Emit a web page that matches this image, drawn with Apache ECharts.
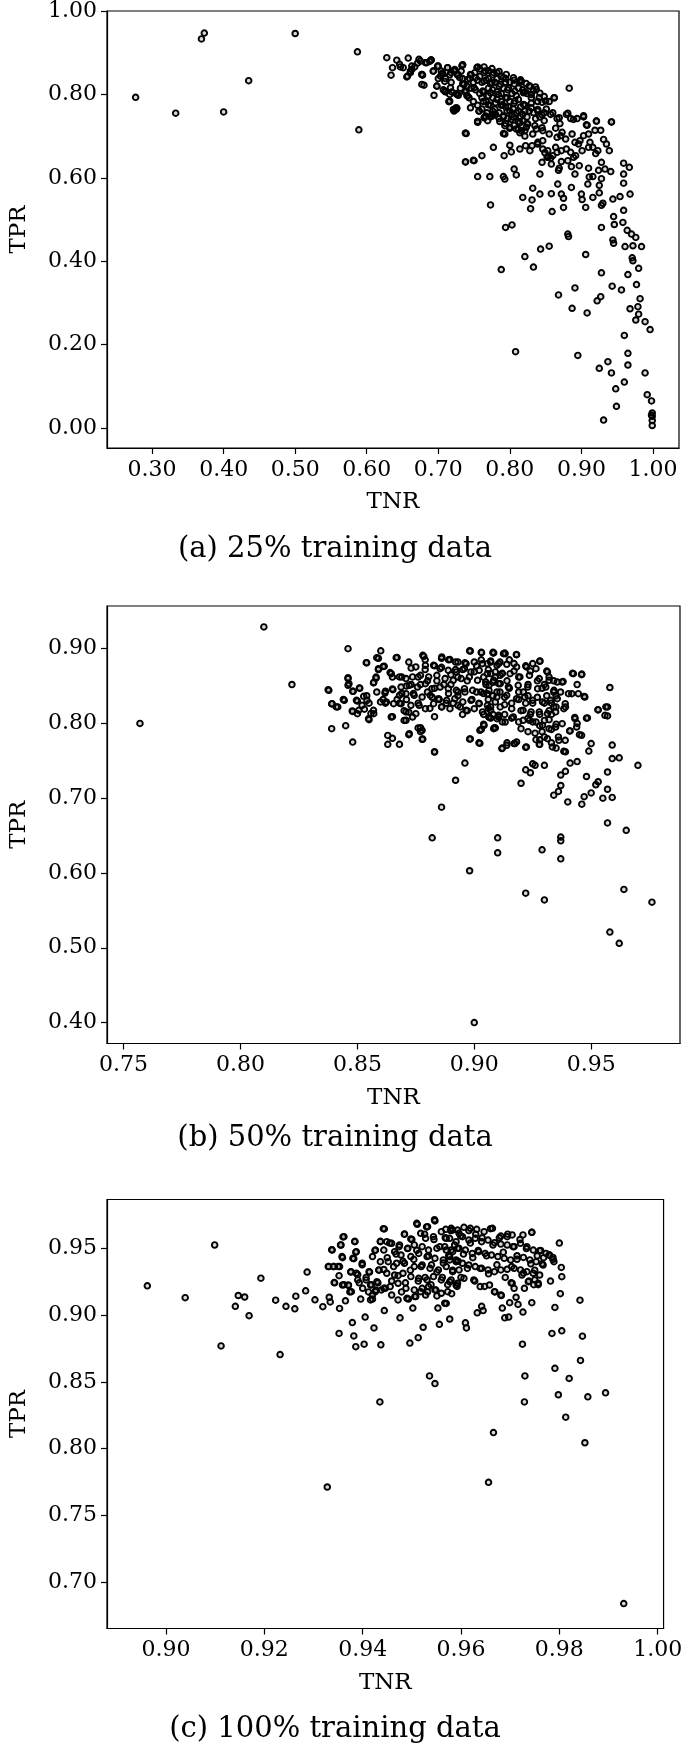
<!DOCTYPE html>
<html>
<head>
<meta charset="utf-8">
<script src="https://cdn.jsdelivr.net/npm/echarts@6/dist/echarts.min.js"></script>
<style>
html,body{margin:0;padding:0;background:#fff;}
#chart{width:685px;height:1746px;}
</style>
</head>
<body>
<div id="chart"></div>
<script>
// ---- tick labels ----
const ticksAx = [0.30,0.40,0.50,0.60,0.70,0.80,0.90,1.00];
const ticksAy = [0.00,0.20,0.40,0.60,0.80,1.00];
const ticksBx = [0.75,0.80,0.85,0.90,0.95];
const ticksBy = [0.40,0.50,0.60,0.70,0.80,0.90];
const ticksCx = [0.90,0.92,0.94,0.96,0.98,1.00];
const ticksCy = [0.70,0.75,0.80,0.85,0.90,0.95];

const captions = ["(a) 25% training data", "(b) 50% training data", "(c) 100% training data"];
const xName = "TNR", yName = "TPR";

// ---- data: [TNR, TPR] ----
const points25 = [
[0.277,0.793],[0.333,0.755],[0.369,0.933],[0.373,0.947],[0.400,0.758],[0.435,0.833],[0.500,0.946],[0.587,0.902],[0.589,0.715],
[0.628,0.888],[0.634,0.846],[0.636,0.864],[0.642,0.882],[0.646,0.872],[0.651,0.864],[0.658,0.887],[0.661,0.852],[0.657,0.844],[0.663,0.860],[0.667,0.866],[0.673,0.884],[0.677,0.848],[0.680,0.822],[0.684,0.876],[0.690,0.883],[0.693,0.856],[0.699,0.868],[0.694,0.798],[0.703,0.844],[0.698,0.820],[0.704,0.856],[0.709,0.831],[0.713,0.864],[0.715,0.783],[0.717,0.816],[0.723,0.856],[0.721,0.764],[0.726,0.767],[0.726,0.800],[0.732,0.856],[0.734,0.871],[0.736,0.824],[0.741,0.796],[0.745,0.848],[0.738,0.707],[0.738,0.638],[0.749,0.642],
[0.647,0.866],[0.656,0.842],[0.671,0.875],[0.678,0.846],[0.688,0.879],[0.700,0.838],[0.706,0.851],[0.710,0.806],[0.718,0.829],[0.724,0.765],[0.727,0.846],[0.728,0.798],[0.733,0.869],[0.734,0.825],[0.740,0.797],[0.744,0.838],
[0.751,0.852],[0.754,0.864],[0.755,0.733],[0.757,0.760],[0.763,0.783],[0.765,0.746],
[0.800,0.829],[0.794,0.838],[0.788,0.843],[0.782,0.852],[0.776,0.847],[0.770,0.857],[0.764,0.852],[0.758,0.843],[0.761,0.829],[0.767,0.834],[0.773,0.825],[0.779,0.829],[0.785,0.820],[0.791,0.815],[0.797,0.811],[0.803,0.802],[0.809,0.797],[0.812,0.788],[0.806,0.779],[0.800,0.783],[0.794,0.792],[0.788,0.802],[0.782,0.806],[0.776,0.811],[0.770,0.815],[0.764,0.806],[0.758,0.802],[0.752,0.811],[0.746,0.815],[0.749,0.829],[0.755,0.834],[0.761,0.792],[0.767,0.783],[0.773,0.774],[0.779,0.765],[0.785,0.756],[0.791,0.746],[0.797,0.742],[0.803,0.751],[0.809,0.756],[0.815,0.746],[0.818,0.737],[0.824,0.746],[0.827,0.760],[0.833,0.756],[0.836,0.742],[0.842,0.746],[0.848,0.737],[0.785,0.742],[0.779,0.751],[0.773,0.746],[0.769,0.737],[0.740,0.820],[0.734,0.838],[0.728,0.847],[0.722,0.857],[0.716,0.847],[0.710,0.838],[0.707,0.811],[0.719,0.806],[0.725,0.802],[0.731,0.815],[0.737,0.806],[0.743,0.792],[0.749,0.783],[0.755,0.774],[0.761,0.765],[0.746,0.847],[0.758,0.861],[0.764,0.866],[0.770,0.838],[0.782,0.838],[0.794,0.829],[0.806,0.825],[0.812,0.815],[0.821,0.806],[0.830,0.779],[0.839,0.760],[0.845,0.751],[0.821,0.774],[0.821,0.760],[0.815,0.770],[0.800,0.760],[0.788,0.774],[0.794,0.770],[0.776,0.792],[0.770,0.797],[0.788,0.783],[0.782,0.788],[0.806,0.834],[0.815,0.829],[0.827,0.820],[0.833,0.809],[0.818,0.811],[0.824,0.802],[0.830,0.792],[0.839,0.783],[0.845,0.781],[0.851,0.765],[0.860,0.756],[0.866,0.742],[0.870,0.730],[0.864,0.719],[0.806,0.726],[0.800,0.721],[0.794,0.730],[0.812,0.716],[0.821,0.713],
[0.775,0.862],[0.785,0.855],[0.795,0.848],[0.805,0.840],[0.815,0.835],[0.823,0.826],[0.836,0.818],[0.842,0.803],[0.848,0.795],[0.855,0.783],[0.780,0.780],[0.790,0.775],[0.798,0.770],[0.805,0.765],[0.812,0.760],[0.818,0.752],[0.770,0.775],[0.776,0.760],[0.786,0.735],[0.796,0.760],[0.805,0.745],[0.812,0.735],[0.824,0.730],[0.835,0.725],[0.845,0.720],
[0.663,0.868],[0.675,0.880],[0.682,0.876],[0.690,0.882],[0.700,0.868],[0.713,0.864],[0.723,0.860],[0.734,0.871],[0.755,0.866],[0.766,0.856],[0.777,0.852],[0.791,0.840],[0.816,0.832],[0.828,0.820],[0.837,0.812],[0.862,0.792],[0.661,0.856],[0.677,0.848],[0.693,0.856],[0.705,0.848],[0.718,0.852],[0.730,0.840],[0.741,0.836],[0.752,0.840],[0.764,0.832],[0.775,0.828],[0.787,0.824],[0.798,0.816],[0.807,0.808],[0.819,0.804],[0.830,0.800],[0.841,0.792],[0.850,0.784],[0.677,0.824],[0.698,0.820],[0.709,0.808],[0.716,0.800],[0.727,0.800],[0.739,0.808],[0.750,0.816],[0.762,0.808],[0.773,0.804],[0.784,0.800],[0.796,0.792],[0.807,0.784],[0.819,0.776],[0.830,0.768],[0.839,0.764],[0.848,0.756],[0.857,0.752],[0.869,0.744],[0.879,0.752],[0.889,0.740],[0.903,0.746],[0.907,0.727],[0.921,0.736],[0.942,0.734],[0.716,0.784],[0.725,0.764],[0.745,0.768],[0.757,0.760],[0.768,0.756],[0.780,0.752],[0.791,0.748],[0.802,0.740],[0.814,0.732],[0.825,0.729],[0.837,0.717],[0.846,0.713],[0.855,0.705],[0.866,0.697],[0.873,0.709],[0.739,0.706],[0.755,0.735],[0.764,0.744],[0.775,0.748],[0.791,0.706],[0.793,0.725],[0.800,0.719],[0.809,0.717],[0.816,0.713],[0.823,0.721],
[0.738,0.638],[0.750,0.641],[0.761,0.653],[0.755,0.603],[0.772,0.603],[0.773,0.535],[0.791,0.603],[0.793,0.597],[0.806,0.621],[0.809,0.607],[0.794,0.481],[0.803,0.487],[0.788,0.380],[0.821,0.411],[0.833,0.386],[0.843,0.429],[0.855,0.436],[0.868,0.319],[0.887,0.287],[0.908,0.276],[0.891,0.336],[0.906,0.416],[0.928,0.372],[0.922,0.305],[0.927,0.315],[0.943,0.340],[0.956,0.331],[0.965,0.368],[0.977,0.344],[0.982,0.310],[0.979,0.291],[0.968,0.286],[0.980,0.273],[0.976,0.259],[0.989,0.255],[0.996,0.236],
[0.881,0.465],[0.882,0.459],[0.944,0.451],[0.945,0.443],[0.928,0.481],[0.945,0.507],[0.946,0.488],[0.958,0.493],[0.959,0.522],[0.961,0.435],[0.972,0.437],[0.984,0.435],[0.971,0.408],[0.972,0.401],[0.980,0.383],[0.964,0.474],[0.970,0.465],[0.976,0.457],[0.944,0.549],[0.954,0.555],[0.968,0.561],[0.928,0.534],[0.930,0.539],[0.906,0.529],[0.900,0.561],[0.901,0.548],[0.916,0.553],[0.925,0.564],[0.925,0.582],[0.909,0.585],[0.911,0.602],[0.916,0.603],[0.928,0.598],[0.924,0.618],[0.933,0.621],[0.941,0.615],[0.959,0.587],[0.959,0.609],[0.959,0.635],[0.967,0.625],
[0.886,0.577],[0.867,0.585],[0.872,0.561],[0.875,0.551],[0.858,0.562],[0.842,0.561],[0.832,0.575],[0.831,0.547],[0.829,0.526],[0.818,0.553],[0.859,0.519],[0.875,0.529],[0.842,0.609],[0.858,0.633],[0.868,0.618],[0.869,0.623],[0.886,0.627],[0.897,0.629],[0.910,0.623],[0.891,0.609],[0.881,0.641],[0.872,0.639],[0.852,0.649],[0.845,0.637],[0.860,0.653],
[0.777,0.673],[0.792,0.653],[0.800,0.678],[0.802,0.662],[0.814,0.669],[0.822,0.677],[0.828,0.665],[0.831,0.677],[0.839,0.681],[0.846,0.669],[0.849,0.660],[0.854,0.650],[0.864,0.673],[0.872,0.665],[0.879,0.669],[0.885,0.661],[0.889,0.649],[0.892,0.653],[0.896,0.681],[0.901,0.665],[0.910,0.673],[0.912,0.685],[0.920,0.658],[0.923,0.665],[0.928,0.637],[0.939,0.665],[0.935,0.681],[0.931,0.692],[0.927,0.714],[0.919,0.714],[0.921,0.736],[0.942,0.734],[0.908,0.726],[0.910,0.705],[0.903,0.749],[0.894,0.742],[0.881,0.755],[0.885,0.742],[0.862,0.792],[0.883,0.815],
[0.755,0.735],[0.738,0.707],[0.715,0.783],[0.722,0.760],[0.725,0.768],[0.766,0.748],[0.776,0.752],[0.793,0.705],[0.800,0.720],[0.814,0.708],[0.821,0.700],[0.832,0.705],[0.839,0.685],[0.846,0.689],[0.853,0.665],[0.857,0.647],[0.866,0.661],[0.871,0.701],[0.878,0.693],[0.887,0.705],[0.891,0.685],[0.898,0.689],[0.903,0.701],[0.916,0.673],
[0.808,0.183],[0.895,0.174],[0.925,0.143],[0.931,0.019],[0.937,0.159],[0.942,0.132],[0.948,0.094],[0.949,0.052],[0.960,0.110],[0.960,0.222],[0.965,0.179],[0.965,0.151],[0.989,0.132],[0.992,0.080],[0.998,0.065],[0.999,0.036],[0.999,0.028],[0.999,0.018],[0.999,0.006],[0.998,0.031]
];

const points50 = [
[0.757,0.800],[0.810,0.929],[0.822,0.852],[0.8375,0.845],[0.839,0.793],[0.839,0.826],[0.841,0.822],[0.844,0.832],[0.845,0.797],[0.846,0.900],[0.846,0.860],[0.846,0.851],[0.848,0.775],[0.848,0.843],[0.848,0.816],[0.850,0.830],[0.851,0.847],[0.850,0.813],[0.853,0.819],[0.854,0.881],[0.854,0.837],[0.855,0.827],[0.855,0.805],[0.857,0.813],[0.857,0.855],[0.858,0.862],[0.859,0.887],[0.859,0.872],[0.860,0.897],[0.861,0.832],[0.861,0.876],[0.862,0.843],[0.862,0.827],[0.863,0.784],[0.863,0.772],[0.864,0.868],[0.865,0.780],[0.865,0.809],[0.865,0.846],[0.865,0.862],[0.867,0.888],[0.868,0.772],[0.868,0.827],[0.869,0.862],[0.870,0.817],[0.870,0.804],[0.871,0.850],[0.872,0.815],[0.872,0.785],[0.872,0.882],[0.873,0.874],[0.874,0.840],[0.875,0.813],[0.876,0.794],[0.877,0.789],[0.878,0.779],[0.878,0.891],[0.879,0.885],[0.880,0.842],[0.881,0.820],[0.882,0.835],[0.883,0.762],[0.882,0.647],[0.883,0.809],[0.884,0.857],[0.886,0.688],[0.886,0.887],[0.887,0.852],[0.888,0.827],[0.889,0.885],[0.890,0.865],[0.891,0.827],[0.892,0.724],[0.892,0.882],[0.893,0.842],[0.895,0.812],[0.896,0.747],[0.896,0.881],[0.898,0.779],[0.898,0.897],[0.898,0.603],[0.900,0.869],[0.900,0.400],[0.901,0.842],[0.902,0.774],[0.903,0.792],[0.903,0.895],[0.904,0.799],[0.905,0.852],[0.906,0.832],[0.907,0.807],[0.908,0.895],[0.909,0.794],[0.910,0.627],[0.910,0.647],[0.911,0.882],[0.912,0.767],[0.913,0.812],[0.913,0.894],[0.914,0.774],[0.915,0.885],[0.916,0.807],[0.917,0.773],[0.918,0.892],[0.919,0.842],[0.920,0.793],[0.920,0.720],[0.922,0.738],[0.922,0.573],[0.922,0.768],[0.923,0.807],[0.924,0.734],[0.925,0.827],[0.925,0.746],[0.926,0.744],[0.928,0.778],[0.928,0.883],[0.928,0.772],[0.929,0.631],[0.930,0.564],[0.930,0.804],[0.930,0.744],[0.931,0.870],[0.933,0.792],[0.934,0.704],[0.934,0.857],[0.935,0.799],[0.936,0.709],[0.936,0.782],[0.937,0.648],[0.937,0.643],[0.937,0.619],[0.937,0.717],[0.937,0.731],[0.938,0.856],[0.939,0.762],[0.939,0.736],[0.939,0.822],[0.940,0.695],[0.941,0.790],[0.941,0.747],[0.942,0.867],[0.943,0.808],[0.944,0.749],[0.944,0.800],[0.944,0.852],[0.945,0.785],[0.946,0.866],[0.946,0.692],[0.947,0.702],[0.947,0.836],[0.948,0.807],[0.948,0.729],[0.949,0.763],[0.950,0.707],[0.950,0.773],[0.952,0.718],[0.953,0.818],[0.955,0.700],[0.957,0.810],[0.957,0.735],[0.957,0.667],[0.957,0.822],[0.957,0.712],[0.958,0.521],[0.958,0.848],[0.959,0.753],[0.959,0.701],[0.959,0.771],[0.962,0.754],[0.962,0.506],[0.964,0.578],[0.965,0.657],[0.970,0.744],[0.976,0.561],[0.953,0.722],
[0.886,0.875],[0.890,0.852],[0.893,0.862],[0.895,0.872],[0.897,0.857],[0.901,0.877],[0.904,0.862],[0.906,0.872],[0.909,0.862],[0.912,0.867],[0.914,0.857],[0.917,0.870],[0.919,0.862],[0.923,0.852],[0.924,0.870],[0.927,0.857],[0.929,0.847],[0.931,0.837],[0.933,0.827],[0.934,0.842],[0.935,0.822],[0.932,0.817],[0.928,0.812],[0.925,0.802],[0.922,0.827],[0.919,0.832],[0.916,0.827],[0.913,0.835],[0.911,0.842],[0.908,0.837],[0.904,0.840],[0.902,0.827],[0.899,0.832],[0.896,0.842],[0.893,0.837],[0.889,0.840],[0.885,0.832],[0.883,0.847],[0.880,0.857],[0.877,0.852],[0.876,0.862],[0.879,0.872],[0.883,0.877],[0.892,0.872],[0.908,0.855],[0.915,0.847],[0.921,0.842],[0.923,0.837],[0.927,0.835],[0.930,0.852],[0.932,0.862],[0.922,0.877],[0.925,0.880],[0.917,0.880],[0.907,0.882],[0.903,0.885],[0.930,0.827],[0.933,0.812],[0.935,0.837],[0.934,0.822],[0.873,0.852],[0.871,0.832],[0.869,0.840],[0.867,0.832],[0.876,0.827],[0.886,0.822],[0.894,0.822],[0.897,0.817],[0.906,0.820],[0.913,0.825],[0.920,0.817],[0.924,0.812],[0.928,0.797],[0.932,0.805],[0.923,0.789],[0.926,0.787],[0.929,0.789],[0.930,0.782],[0.933,0.774],[0.935,0.767],[0.919,0.802],[0.912,0.802],[0.908,0.812],[0.904,0.812],
[0.8784,0.8897],[0.8861,0.8888],[0.8896,0.8853],[0.8930,0.8821],[0.8965,0.8799],[0.9000,0.8821],[0.9035,0.8799],[0.9070,0.8835],[0.9104,0.8799],[0.8983,0.8968],[0.9031,0.8946],[0.9081,0.8942],[0.9125,0.8933],[0.8750,0.8755],[0.8791,0.8777],[0.8826,0.8777],[0.8854,0.8732],[0.8889,0.8710],[0.8923,0.8688],[0.8958,0.8732],[0.8986,0.8688],[0.9021,0.8710],[0.9056,0.8665],[0.9090,0.8688],[0.9118,0.8665],[0.8708,0.8599],[0.8736,0.8621],[0.8770,0.8643],[0.8805,0.8621],[0.8840,0.8643],[0.8875,0.8599],[0.8910,0.8576],[0.8944,0.8599],[0.8979,0.8621],[0.9014,0.8576],[0.9049,0.8554],[0.9083,0.8576],[0.9111,0.8532],[0.8687,0.8487],[0.8722,0.8509],[0.8757,0.8487],[0.8791,0.8532],[0.8819,0.8465],[0.8854,0.8487],[0.8889,0.8465],[0.8923,0.8443],[0.8958,0.8465],[0.8993,0.8443],[0.9028,0.8420],[0.9063,0.8443],[0.9097,0.8420],[0.8680,0.8376],[0.8708,0.8398],[0.8743,0.8376],[0.8777,0.8353],[0.8812,0.8376],[0.8847,0.8331],[0.8882,0.8309],[0.8917,0.8331],[0.8951,0.8287],[0.8986,0.8309],[0.9021,0.8264],[0.9056,0.8242],[0.9090,0.8287],[0.8687,0.8264],[0.8729,0.8242],[0.8764,0.8242],[0.8791,0.8197],[0.8826,0.8264],[0.8861,0.8220],[0.8896,0.8197],[0.8930,0.8242],[0.8965,0.8175],[0.9000,0.8197],[0.9035,0.8153],[0.9070,0.8175],[0.9104,0.8108],[0.8708,0.8153],[0.8736,0.8086],[0.8708,0.8041],[0.8770,0.7943],[0.8777,0.7908],[0.8722,0.7863],[0.8777,0.7788],[0.8830,0.7618],[0.8983,0.7792],[0.9024,0.7734],[0.9024,0.7908],[0.9042,0.7975],[0.9086,0.7943],[0.9104,0.8086],[0.9063,0.8086],
[0.8378,0.8443],[0.8392,0.8264],[0.8416,0.8220],[0.8444,0.8309],[0.8460,0.8612],[0.8464,0.8532],[0.8482,0.8429],[0.8509,0.8474],[0.8478,0.8166],[0.8496,0.8309],[0.8506,0.8175],[0.8520,0.8242],[0.8527,0.8362],[0.8541,0.8309],[0.8548,0.8064],[0.8558,0.8131],[0.8569,0.8175],[0.8538,0.8812],[0.8583,0.8879],[0.8590,0.8732],[0.8615,0.8763],[0.8569,0.8541],[0.8580,0.8607],[0.8583,0.8420],[0.8618,0.8407],[0.8624,0.8287],[0.8599,0.8287],[0.8645,0.8665],[0.8652,0.8451],[0.8645,0.8086],[0.8655,0.8264],[0.8666,0.8879],[0.8680,0.8621],
[0.9083,0.8942],[0.9132,0.8933],[0.9181,0.8919],[0.9281,0.8835],[0.9056,0.8799],[0.9097,0.8777],[0.9139,0.8790],[0.9181,0.8755],[0.9223,0.8755],[0.9264,0.8732],[0.9313,0.8688],[0.9070,0.8665],[0.9111,0.8643],[0.9153,0.8665],[0.9195,0.8621],[0.9236,0.8643],[0.9278,0.8599],[0.9320,0.8576],[0.9355,0.8554],[0.9376,0.8554],[0.9063,0.8509],[0.9104,0.8532],[0.9146,0.8487],[0.9188,0.8509],[0.9229,0.8487],[0.9271,0.8465],[0.9306,0.8487],[0.9341,0.8443],[0.9369,0.8420],[0.9056,0.8398],[0.9097,0.8353],[0.9139,0.8376],[0.9181,0.8331],[0.9216,0.8353],[0.9250,0.8309],[0.9292,0.8287],[0.9327,0.8309],[0.9355,0.8331],[0.9389,0.8264],[0.9070,0.8220],[0.9111,0.8220],[0.9160,0.8197],[0.9209,0.8175],[0.9243,0.8153],[0.9278,0.8153],[0.9313,0.8131],[0.9348,0.8153],[0.9383,0.8197],[0.9063,0.8086],[0.9097,0.8064],[0.9132,0.8019],[0.9167,0.8086],[0.9209,0.8041],[0.9236,0.8041],[0.9264,0.8019],[0.9292,0.7975],[0.9320,0.7930],[0.9348,0.7952],[0.9376,0.7997],[0.9083,0.7930],[0.9118,0.7663],[0.9139,0.7707],[0.9174,0.7730],[0.9181,0.7752],[0.9223,0.7685],[0.9264,0.7783],[0.9278,0.7721],[0.9313,0.7796],[0.9334,0.7685],[0.9362,0.7774],[0.9389,0.7774],[0.9383,0.7627],[0.9408,0.7899],[0.9438,0.7952],[0.9473,0.8353],[0.9445,0.8398],[0.9424,0.8665],[0.9459,0.8652],[0.9417,0.8398],[0.9403,0.8398],[0.9431,0.8064],[0.9484,0.8073],[0.9459,0.7841],[0.9529,0.8184],[0.9563,0.8220],[0.9559,0.8108]
];

const points100 = [
[0.8962,0.9221],[0.9039,0.9132],[0.9099,0.9527],[0.9112,0.8770],[0.9141,0.9067],[0.9147,0.9148],[0.9160,0.9137],[0.9169,0.8997],[0.9193,0.9278],[0.9223,0.9113],[0.9232,0.8705],[0.9244,0.9067],[0.9262,0.9048],[0.9264,0.9143],[0.9284,0.9183],[0.9287,0.9324],[0.9303,0.9116],[0.9319,0.9064],[0.9328,0.7712],[0.9330,0.9365],[0.9332,0.9135],[0.9334,0.9100],[0.9337,0.9492],[0.9341,0.9365],[0.9343,0.9243],[0.9350,0.9365],[0.9352,0.9297],[0.9353,0.9051],[0.9352,0.8864],[0.9356,0.9527],[0.9359,0.9432],[0.9360,0.9587],[0.9362,0.9229],[0.9365,0.9108],[0.9371,0.9224],[0.9374,0.9175],[0.9376,0.9324],[0.9379,0.8945],[0.9382,0.9424],[0.9382,0.8845],[0.9384,0.9554],[0.9386,0.8764],[0.9386,0.9473],[0.9390,0.9305],[0.9393,0.9243],[0.9396,0.9121],[0.9399,0.9378],[0.9403,0.8783],[0.9405,0.8986],[0.9407,0.9284],[0.9412,0.9175],[0.9414,0.9324],[0.9418,0.9229],[0.9420,0.9121],[0.9423,0.8905],[0.9425,0.9486],[0.9427,0.9189],[0.9431,0.9243],[0.9433,0.9338],[0.9436,0.9554],[0.9437,0.8778],[0.9435,0.8350],[0.9442,0.9649],[0.9443,0.9343],[0.9444,0.9035],[0.9446,0.9202],[0.9450,0.9432],[0.9455,0.9541],[0.9459,0.9257],[0.9463,0.9365],[0.9468,0.9459],[0.9472,0.9297],[0.9474,0.9514],[0.9476,0.8981],[0.9479,0.9175],[0.9482,0.9405],[0.9485,0.9608],[0.9487,0.9243],[0.9491,0.9500],[0.9493,0.9121],[0.9496,0.8791],[0.9497,0.9338],[0.9500,0.9568],[0.9502,0.9054],[0.9504,0.9419],[0.9506,0.9140],[0.9510,0.9486],[0.9513,0.8832],[0.9513,0.9256],[0.9510,0.9689],[0.9519,0.9365],[0.9521,0.9202],[0.9523,0.8910],[0.9526,0.9608],[0.9527,0.9284],[0.9530,0.9662],[0.9532,0.9175],[0.9534,0.9446],[0.9536,0.8545],[0.9539,0.9229],[0.9540,0.9378],[0.9545,0.9568],[0.9546,0.9716],[0.9547,0.8488],[0.9549,0.9189],[0.9551,0.9324],[0.9553,0.9054],[0.9556,0.8932],[0.9557,0.9514],[0.9562,0.9284],[0.9564,0.9392],[0.9568,0.9581],[0.9570,0.9089],[0.9573,0.9229],[0.9575,0.9446],[0.9577,0.8972],[0.9579,0.9635],[0.9581,0.9162],[0.9583,0.9338],[0.9587,0.9527],[0.9592,0.9216],[0.9594,0.9405],[0.9599,0.9595],[0.9600,0.9284],[0.9605,0.9459],[0.9609,0.8943],[0.9611,0.8905],[0.9613,0.9351],[0.9616,0.9635],[0.9619,0.9541],[0.9624,0.9432],[0.9628,0.9256],[0.9630,0.9608],[0.9633,0.9018],[0.9635,0.9486],[0.9639,0.9351],[0.9642,0.9067],[0.9643,0.9581],[0.9645,0.9035],[0.9648,0.9216],[0.9652,0.9446],[0.9656,0.7747],[0.9656,0.9311],[0.9660,0.9649],[0.9665,0.9527],[0.9666,0.8120],[0.9669,0.9175],[0.9673,0.9378],[0.9678,0.9581],[0.9682,0.9148],[0.9684,0.9054],[0.9686,0.9473],[0.9689,0.8981],[0.9690,0.9284],[0.9695,0.9608],[0.9697,0.8986],[0.9699,0.9094],[0.9702,0.9243],[0.9703,0.9365],[0.9706,0.9514],[0.9708,0.9202],[0.9712,0.9135],[0.9714,0.9446],[0.9716,0.9081],[0.9720,0.9568],[0.9725,0.8783],[0.9726,0.9024],[0.9727,0.9316],[0.9729,0.8350],[0.9729,0.9202],[0.9730,0.8545],[0.9733,0.9500],[0.9738,0.9256],[0.9742,0.9386],[0.9744,0.9094],[0.9744,0.9622],[0.9748,0.9229],[0.9750,0.9338],[0.9755,0.9446],[0.9757,0.9229],[0.9762,0.9486],[0.9765,0.9386],[0.9768,0.9432],[0.9779,0.9451],[0.9782,0.9256],[0.9785,0.8864],[0.9787,0.9419],[0.9791,0.9059],[0.9791,0.8602],[0.9798,0.8404],[0.9800,0.9541],[0.9802,0.9162],[0.9804,0.9359],[0.9805,0.9289],[0.9805,0.8883],[0.9813,0.8236],[0.9820,0.8526],[0.9842,0.9113],[0.9843,0.8661],[0.9847,0.8843],[0.9852,0.8044],[0.9858,0.8388],[0.9894,0.8418],[0.9931,0.6838],
[0.9569,0.9644],[0.9580,0.9652],[0.9593,0.9639],[0.9606,0.9659],[0.9619,0.9652],[0.9632,0.9644],[0.9647,0.9627],[0.9664,0.9652],[0.9681,0.9594],[0.9694,0.9589],[0.9704,0.9602],[0.9726,0.9602],[0.9744,0.9622],[0.9577,0.9577],[0.9590,0.9552],[0.9603,0.9589],[0.9616,0.9564],[0.9629,0.9577],[0.9642,0.9552],[0.9655,0.9564],[0.9668,0.9544],[0.9681,0.9534],[0.9694,0.9527],[0.9708,0.9514],[0.9721,0.9539],[0.9734,0.9514],[0.9747,0.9489],[0.9760,0.9484],[0.9773,0.9464],[0.9780,0.9452],[0.9787,0.9434],[0.9789,0.9402],[0.9570,0.9489],[0.9583,0.9477],[0.9596,0.9502],[0.9609,0.9489],[0.9623,0.9464],[0.9636,0.9477],[0.9649,0.9464],[0.9662,0.9452],[0.9675,0.9440],[0.9688,0.9427],[0.9701,0.9415],[0.9714,0.9420],[0.9727,0.9434],[0.9740,0.9415],[0.9753,0.9402],[0.9767,0.9377],[0.9577,0.9415],[0.9590,0.9402],[0.9603,0.9390],[0.9616,0.9377],[0.9629,0.9365],[0.9642,0.9352],[0.9655,0.9340],[0.9668,0.9327],[0.9681,0.9340],[0.9694,0.9345],[0.9708,0.9352],[0.9721,0.9340],[0.9734,0.9327],[0.9747,0.9315],[0.9760,0.9302],[0.9580,0.9265],[0.9593,0.9240],[0.9606,0.9277],[0.9626,0.9265],[0.9639,0.9215],[0.9658,0.9227],[0.9668,0.9177],[0.9681,0.9152],[0.9704,0.9240],[0.9724,0.9302],[0.9737,0.9252],[0.9750,0.9265],[0.9757,0.9240],
[0.9444,0.9647],[0.9511,0.9682],[0.9532,0.9664],[0.9547,0.9707],[0.9485,0.9609],[0.9498,0.9572],[0.9518,0.9614],[0.9528,0.9577],[0.9544,0.9589],[0.9560,0.9627],[0.9570,0.9577],[0.9583,0.9639],[0.9596,0.9614],[0.9436,0.9552],[0.9449,0.9552],[0.9459,0.9539],[0.9475,0.9527],[0.9492,0.9502],[0.9505,0.9527],[0.9521,0.9514],[0.9534,0.9489],[0.9551,0.9502],[0.9567,0.9514],[0.9580,0.9489],[0.9593,0.9502],[0.9426,0.9489],[0.9443,0.9489],[0.9465,0.9477],[0.9478,0.9452],[0.9498,0.9440],[0.9514,0.9464],[0.9531,0.9440],[0.9547,0.9427],[0.9564,0.9415],[0.9577,0.9440],[0.9590,0.9415],[0.9420,0.9440],[0.9436,0.9402],[0.9452,0.9402],[0.9469,0.9390],[0.9485,0.9390],[0.9505,0.9365],[0.9521,0.9377],[0.9537,0.9352],[0.9554,0.9340],[0.9570,0.9365],[0.9583,0.9327],[0.9596,0.9340],[0.9413,0.9327],[0.9433,0.9340],[0.9449,0.9315],[0.9465,0.9302],[0.9482,0.9315],[0.9498,0.9290],[0.9514,0.9277],[0.9531,0.9265],[0.9544,0.9290],[0.9560,0.9265],[0.9577,0.9252],[0.9590,0.9227],[0.9416,0.9227],[0.9429,0.9252],[0.9443,0.9202],[0.9456,0.9215],[0.9472,0.9240],[0.9488,0.9202],[0.9505,0.9190],[0.9518,0.9177],[0.9534,0.9215],[0.9547,0.9190],[0.9560,0.9165],[0.9573,0.9177],[0.9420,0.9152],[0.9426,0.9177],[0.9438,0.9190],[0.9459,0.9152],[0.9472,0.9115],[0.9490,0.9127],[0.9508,0.9140],[0.9528,0.9152],[0.9551,0.9145],[0.9567,0.9090],[0.9362,0.9589],[0.9355,0.9527],[0.9384,0.9552],[0.9338,0.9489],[0.9387,0.9477],[0.9358,0.9440],[0.9380,0.9427],[0.9331,0.9365],[0.9341,0.9365],[0.9353,0.9365],[0.9376,0.9327],[0.9387,0.9315],[0.9399,0.9390],[0.9342,0.9245],[0.9359,0.9227],[0.9371,0.9227],[0.9377,0.9177],[0.9390,0.9265],[0.9407,0.9265],[0.9400,0.9202],[0.9416,0.9115]
];

const panels = [
  {data: points25, ticksX: ticksAx, ticksY: ticksAy, xMin: 0.237, xMax: 1.0364, yMin: -0.048, yMax: 1.0,
   grid: {left: 95, top: 10, width: 584, height: 438}, capY: 549},
  {data: points50, ticksX: ticksBx, ticksY: ticksBy, xMin: 0.7429, xMax: 0.988, yMin: 0.372, yMax: 0.957,
   grid: {left: 93.5, top: 606, width: 586.5, height: 437.5}, capY: 1138},
  {data: points100, ticksX: ticksCx, ticksY: ticksCy, xMin: 0.888, xMax: 1.0012, yMin: 0.6651, yMax: 0.9868,
   grid: {left: 92, top: 1199.5, width: 576.5, height: 429}, capY: 1729}
];

const FONT = "DejaVu Serif";
const chart = echarts.init(document.getElementById('chart'), null, {renderer: 'canvas'});

const grids = [], xAxes = [], yAxes = [], series = [], graphics = [];
panels.forEach((p, i) => {
  grids.push(Object.assign({show: true, borderColor: '#000', borderWidth: 1.2, backgroundColor: 'transparent', containLabel: false}, p.grid));
  xAxes.push({
    type: 'value', gridIndex: i, min: p.xMin, max: p.xMax,
    name: xName, nameLocation: 'middle', nameGap: 43,
    nameTextStyle: {fontFamily: FONT, fontSize: 23, color: '#000'},
    axisLine: {show: true, onZero: false, lineStyle: {color: '#000', width: 1.2}},
    axisTick: {show: true, inside: false, length: 6, lineStyle: {color: '#000', width: 1.2}, customValues: p.ticksX},
    axisLabel: {show: true, margin: 11, fontFamily: FONT, fontSize: 22, color: '#000', customValues: p.ticksX,
      formatter: v => v.toFixed(2)},
    splitLine: {show: false}
  });
  yAxes.push({
    type: 'value', gridIndex: i, min: p.yMin, max: p.yMax,
    name: yName, nameLocation: 'middle', nameGap: 76, nameRotate: 90,
    nameTextStyle: {fontFamily: FONT, fontSize: 23, color: '#000'},
    axisLine: {show: true, onZero: false, lineStyle: {color: '#000', width: 1.2}},
    axisTick: {show: true, inside: false, length: 6, lineStyle: {color: '#000', width: 1.2}, customValues: p.ticksY},
    axisLabel: {show: true, margin: 10, fontFamily: FONT, fontSize: 22, color: '#000', customValues: p.ticksY,
      formatter: v => v.toFixed(2)},
    splitLine: {show: false}
  });
  series.push({
    type: 'scatter', xAxisIndex: i, yAxisIndex: i, data: p.data,
    symbol: 'circle', symbolSize: 5.6, silent: true,
    itemStyle: {color: 'rgba(0,0,0,0.15)', borderColor: '#000', borderWidth: 1.9, opacity: 1}
  });
  graphics.push({
    type: 'text', x: 335, y: p.capY,
    style: {text: captions[i], fontFamily: FONT, fontSize: 29, fill: '#000', textAlign: 'center', textVerticalAlign: 'middle'}
  });
});

chart.setOption({
  animation: false,
  backgroundColor: '#fff',
  grid: grids, xAxis: xAxes, yAxis: yAxes, series: series, graphic: graphics
});
</script>
</body>
</html>
